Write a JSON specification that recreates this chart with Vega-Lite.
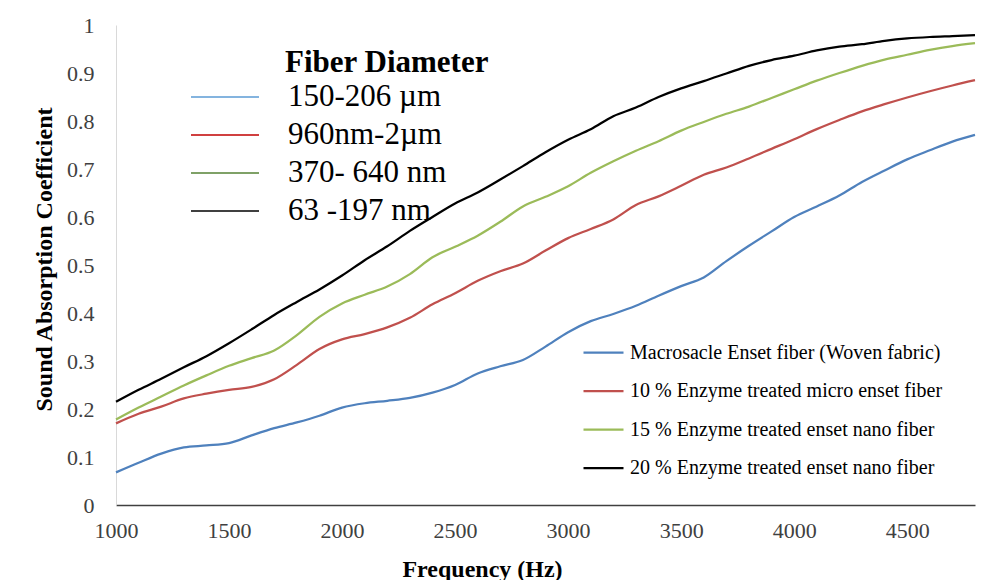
{
  "$schema": "https://vega.github.io/schema/vega-lite/v6.json",
  "width": 859,
  "height": 480,
  "autosize": {"type": "none"},
  "padding": {"left": 116, "top": 25, "right": 14, "bottom": 75},
  "background": "white",
  "title": {
    "text": "Fiber Diameter",
    "anchor": "start",
    "frame": "group",
    "orient": "top",
    "font": "Liberation Serif",
    "fontSize": 31,
    "fontWeight": "bold",
    "color": "black",
    "baseline": "alphabetic",
    "offset": 0,
    "dx": 169,
    "dy": 89
  },
  "datasets": {
    "curves": [
      {"f": 1000, "a": 0.068, "b": 0.170, "c": 0.178, "d": 0.215},
      {"f": 1100, "a": 0.088, "b": 0.190, "c": 0.203, "d": 0.240},
      {"f": 1200, "a": 0.107, "b": 0.205, "c": 0.226, "d": 0.263},
      {"f": 1300, "a": 0.120, "b": 0.222, "c": 0.249, "d": 0.287},
      {"f": 1400, "a": 0.124, "b": 0.232, "c": 0.270, "d": 0.310},
      {"f": 1500, "a": 0.129, "b": 0.240, "c": 0.290, "d": 0.337},
      {"f": 1600, "a": 0.145, "b": 0.246, "c": 0.306, "d": 0.366},
      {"f": 1700, "a": 0.160, "b": 0.262, "c": 0.322, "d": 0.396},
      {"f": 1800, "a": 0.172, "b": 0.292, "c": 0.354, "d": 0.423},
      {"f": 1900, "a": 0.186, "b": 0.325, "c": 0.392, "d": 0.449},
      {"f": 2000, "a": 0.203, "b": 0.345, "c": 0.420, "d": 0.478},
      {"f": 2100, "a": 0.212, "b": 0.356, "c": 0.438, "d": 0.510},
      {"f": 2200, "a": 0.217, "b": 0.370, "c": 0.455, "d": 0.539},
      {"f": 2300, "a": 0.223, "b": 0.390, "c": 0.481, "d": 0.571},
      {"f": 2400, "a": 0.234, "b": 0.418, "c": 0.516, "d": 0.600},
      {"f": 2500, "a": 0.250, "b": 0.441, "c": 0.538, "d": 0.628},
      {"f": 2600, "a": 0.274, "b": 0.467, "c": 0.561, "d": 0.651},
      {"f": 2700, "a": 0.289, "b": 0.487, "c": 0.590, "d": 0.678},
      {"f": 2800, "a": 0.302, "b": 0.503, "c": 0.622, "d": 0.706},
      {"f": 2900, "a": 0.330, "b": 0.530, "c": 0.642, "d": 0.735},
      {"f": 3000, "a": 0.360, "b": 0.556, "c": 0.664, "d": 0.761},
      {"f": 3100, "a": 0.383, "b": 0.575, "c": 0.692, "d": 0.783},
      {"f": 3200, "a": 0.398, "b": 0.595, "c": 0.716, "d": 0.810},
      {"f": 3300, "a": 0.415, "b": 0.625, "c": 0.738, "d": 0.828},
      {"f": 3400, "a": 0.436, "b": 0.643, "c": 0.758, "d": 0.850},
      {"f": 3500, "a": 0.456, "b": 0.665, "c": 0.780, "d": 0.868},
      {"f": 3600, "a": 0.474, "b": 0.688, "c": 0.798, "d": 0.883},
      {"f": 3700, "a": 0.508, "b": 0.703, "c": 0.815, "d": 0.899},
      {"f": 3800, "a": 0.540, "b": 0.722, "c": 0.830, "d": 0.915},
      {"f": 3900, "a": 0.570, "b": 0.742, "c": 0.848, "d": 0.927},
      {"f": 4000, "a": 0.600, "b": 0.762, "c": 0.866, "d": 0.936},
      {"f": 4100, "a": 0.622, "b": 0.783, "c": 0.884, "d": 0.947},
      {"f": 4200, "a": 0.645, "b": 0.802, "c": 0.900, "d": 0.955},
      {"f": 4300, "a": 0.673, "b": 0.820, "c": 0.915, "d": 0.960},
      {"f": 4400, "a": 0.697, "b": 0.835, "c": 0.928, "d": 0.967},
      {"f": 4500, "a": 0.720, "b": 0.849, "c": 0.938, "d": 0.972},
      {"f": 4600, "a": 0.739, "b": 0.862, "c": 0.948, "d": 0.975},
      {"f": 4700, "a": 0.757, "b": 0.874, "c": 0.956, "d": 0.977},
      {"f": 4800, "a": 0.771, "b": 0.885, "c": 0.962, "d": 0.979}
    ],
    "series": [
      {"k": "a", "name": "Macrosacle Enset  fiber (Woven fabric)", "dia": "150-206 µm"},
      {"k": "b", "name": "10 % Enzyme treated micro enset fiber", "dia": "960nm-2µm"},
      {"k": "c", "name": "15 %  Enzyme treated enset nano fiber", "dia": "370- 640 nm"},
      {"k": "d", "name": "20 %  Enzyme treated enset nano fiber", "dia": "63 -197 nm"}
    ]
  },
  "data": {"name": "curves"},
  "transform": [
    {"fold": ["a", "b", "c", "d"], "as": ["k", "v"]},
    {"lookup": "k", "from": {"data": {"name": "series"}, "key": "k", "fields": ["name", "dia"]}}
  ],
  "encoding": {
    "x": {
      "field": "f",
      "type": "quantitative",
      "scale": {"domain": [1000, 4800], "nice": false, "zero": false},
      "title": "Frequency (Hz)",
      "axis": {
        "values": [1000, 1500, 2000, 2500, 3000, 3500, 4000, 4500],
        "format": "d",
        "grid": false,
        "ticks": false,
        "labelFlush": false,
        "labelOverlap": false,
        "labelFont": "Liberation Serif",
        "labelFontSize": 22,
        "labelColor": "#404040",
        "labelPadding": 15,
        "domainColor": "#404040",
        "domainWidth": 1.5,
        "titleFont": "Liberation Serif",
        "titleFontSize": 24,
        "titleFontWeight": "bold",
        "titleColor": "black",
        "titleX": 366,
        "titleY": 71,
        "titleBaseline": "alphabetic",
        "titleAlign": "center"
      }
    },
    "y": {
      "field": "v",
      "type": "quantitative",
      "scale": {"domain": [0, 1], "nice": false},
      "title": "Sound Absorption Coefficient",
      "axis": {
        "values": [0, 0.1, 0.2, 0.3, 0.4, 0.5, 0.6, 0.7, 0.8, 0.9, 1],
        "format": ".1~f",
        "grid": false,
        "ticks": false,
        "labelOverlap": false,
        "labelFont": "Liberation Serif",
        "labelFontSize": 22,
        "labelColor": "#404040",
        "labelPadding": 22,
        "domainColor": "#d9d9d9",
        "domainWidth": 1,
        "titleFont": "Liberation Serif",
        "titleFontSize": 24,
        "titleFontWeight": "bold",
        "titleColor": "black",
        "titleAngle": 270,
        "titleX": -65,
        "titleY": 234,
        "titleBaseline": "alphabetic",
        "titleAlign": "center"
      }
    }
  },
  "layer": [
    {
      "mark": {"type": "line", "interpolate": "monotone", "strokeWidth": 2.25, "opacity": 0},
      "encoding": {
        "color": {
          "field": "dia",
          "type": "nominal",
          "scale": {
            "domain": ["150-206 µm", "960nm-2µm", "370- 640 nm", "63 -197 nm"],
            "range": ["#5B9BD5", "#C00000", "#548235", "#000000"]
          },
          "legend": {
            "title": null,
            "orient": "none",
            "legendX": 91,
            "legendY": 54,
            "padding": 0,
            "symbolType": "M-2,0H2",
            "symbolSize": 1156,
            "symbolStrokeWidth": 1.5,
            "symbolOpacity": 1,
            "labelFont": "Liberation Serif",
            "labelFontSize": 31,
            "labelColor": "black",
            "labelOffset": 45,
            "labelLimit": 500,
            "rowPadding": 5
          }
        }
      }
    },
    {
      "mark": {"type": "line", "interpolate": "monotone", "strokeWidth": 2.25},
      "encoding": {
        "color": {
          "field": "name",
          "type": "nominal",
          "scale": {
            "domain": [
              "Macrosacle Enset  fiber (Woven fabric)",
              "10 % Enzyme treated micro enset fiber",
              "15 %  Enzyme treated enset nano fiber",
              "20 %  Enzyme treated enset nano fiber"
            ],
            "range": ["#4F81BD", "#C0504D", "#9BBB59", "#000000"]
          },
          "legend": {
            "title": null,
            "orient": "none",
            "legendX": 476,
            "legendY": 316,
            "padding": 0,
            "symbolType": "M-2,0H2",
            "symbolSize": 400,
            "symbolStrokeWidth": 2.25,
            "labelFont": "Liberation Serif",
            "labelFontSize": 20,
            "labelColor": "black",
            "labelOffset": 15,
            "labelLimit": 600,
            "rowPadding": 16.5
          }
        }
      }
    }
  ],
  "resolve": {"scale": {"color": "independent"}},
  "config": {"view": {"stroke": null}}
}
